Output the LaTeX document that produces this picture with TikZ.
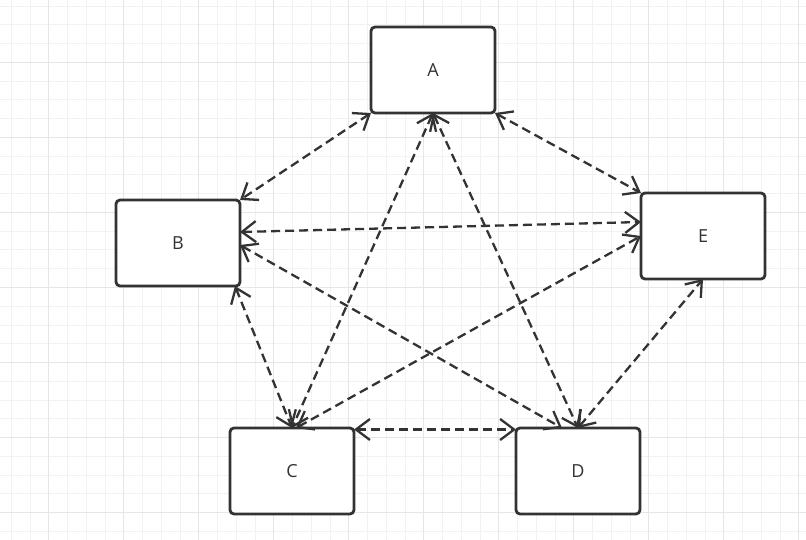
\documentclass[tikz,border=0pt]{standalone}
\usepackage{fontspec}
\setmainfont{Open Sans}
\usetikzlibrary{arrows.meta}
\definecolor{ink}{HTML}{333333}
\definecolor{gridminor}{HTML}{F2F2F2}
\definecolor{gridmajor}{HTML}{E6E6E6}
\tikzset{
  box/.style={draw=ink, line width=2.8pt, rounded corners=4pt, fill=white,
    minimum width=124pt, minimum height=86pt, inner sep=0pt, outer sep=0pt,
    text=ink, font=\fontsize{18}{21}\selectfont},
  link/.style={draw=ink, line width=2.3pt, dash pattern=on 9pt off 5pt,
    {Straight Barb[length=14pt,width=21pt]}-{Straight Barb[length=14pt,width=21pt]}},
  minorline/.style={draw=gridminor, line width=1pt},
  majorline/.style={draw=gridmajor, line width=1pt}
}
\begin{document}
\begin{tikzpicture}[x=1pt,y=-1pt]
\useasboundingbox (0,0) rectangle (806,540);
\fill[white] (0,0) rectangle (806,540);
\foreach \i in {0,...,42} \draw[minorline] ({11.25+18.75*\i},0) -- ({11.25+18.75*\i},540);
\foreach \i in {0,...,28} \draw[minorline] (0,{6.25+18.75*\i}) -- (806,{6.25+18.75*\i});
\foreach \i in {0,...,10} \draw[majorline] ({48.75+75*\i},0) -- ({48.75+75*\i},540);
\foreach \i in {0,...,6} \draw[majorline] (0,{62.5+75*\i}) -- (806,{62.5+75*\i});

\node[box] (A) at (433,70) {A};
\node[box] (B) at (178,243) {B};
\node[box] (C) at (292,471) {C};
\node[box] (D) at (578,471) {D};
\node[box] (E) at (703,236) {E};

\draw[link] (A.south west) -- (B.north east);
\draw[link] (A.south) -- (C.north);
\draw[link] (A.south) -- (D.north);
\draw[link] (A.south east) -- (E.north west);
\draw[link] ([yshift=11pt]B.east) -- ([yshift=14pt]E.west);
\draw[link] ([yshift=-2pt]B.east) -- ([xshift=-16pt]D.north);
\draw[link] ([xshift=-5pt]B.south east) -- (C.north);
\draw[link] ([yshift=-1.5pt]C.north east) -- ([yshift=-1.5pt]D.north west);
\draw[link] ([xshift=4pt]C.north) -- (E.west);
\draw[link] (D.north) -- (E.south);
\end{tikzpicture}
\end{document}
